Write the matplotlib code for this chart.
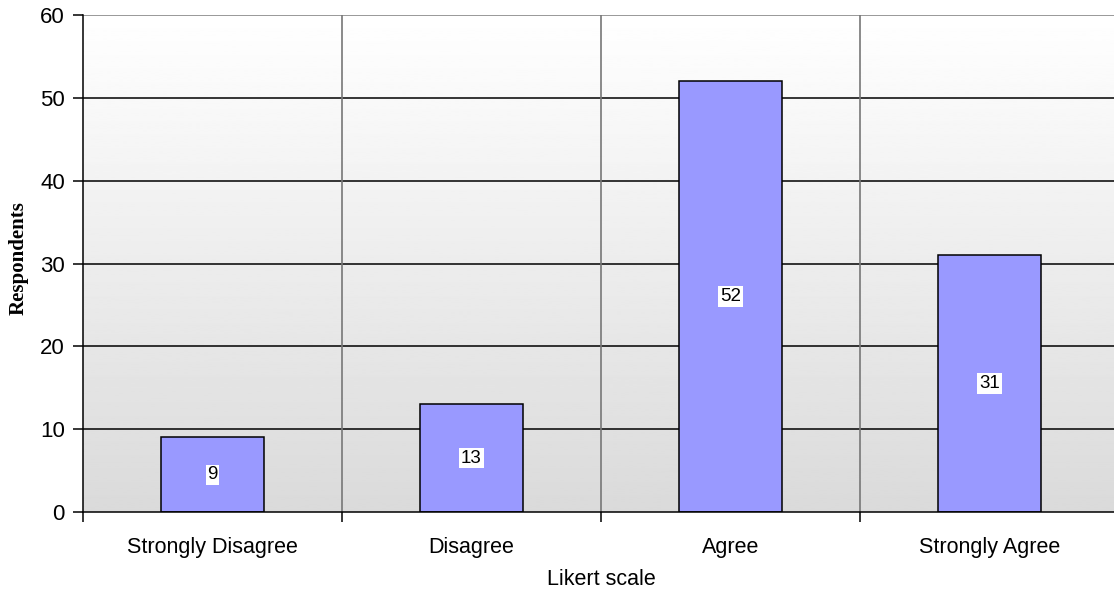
import matplotlib
matplotlib.use("Agg")
import matplotlib.pyplot as plt
import numpy as np

categories = ["Strongly Disagree", "Disagree", "Agree", "Strongly Agree"]
respondents = [9, 13, 52, 31]
y_ticks = [0, 10, 20, 30, 40, 50, 60]

plt.rcParams['font.family'] = ['Liberation Sans', 'DejaVu Sans']

fig = plt.figure(figsize=(11.14, 5.94), dpi=100)
ax = fig.add_axes([83/1114, 1-512/594, 1036/1114, 497/594])

x = np.arange(len(categories))
n = len(categories)

# white-to-grey background gradient (white at top)
grad = np.linspace(1.0, 0.855, 256).reshape(-1, 1)
ax.imshow(grad, cmap='gray', vmin=0, vmax=1, aspect='auto',
          extent=(-0.5, n-0.5, 0, 60), zorder=0, origin='upper')
ax.set_xlim(-0.5, n-0.5)
ax.set_ylim(0, 60)

for t in y_ticks[1:-1]:
    ax.axhline(t, color='#000000', lw=1.1, zorder=1)
ax.axhline(60, color='#888888', lw=1.2, zorder=1)
for b in np.arange(0.5, n-0.5, 1):
    ax.axvline(b, color='#777777', lw=1.2, zorder=1)

bars = ax.bar(x, respondents, width=0.4, color='#9999FF', edgecolor='black',
              linewidth=1.1, zorder=2)
for xi, v in zip(x, respondents):
    ax.text(xi, v/2, str(v), ha='center', va='center', fontsize=13.5, zorder=3,
            bbox=dict(facecolor='white', edgecolor='none', pad=1.2))

ax.set_yticks(y_ticks)
ax.set_yticklabels([str(t) for t in y_ticks], fontsize=16)
ax.set_xticks(x)
ax.set_xticklabels(categories, fontsize=15.5)
ax.tick_params(axis='x', length=0, pad=18)
ax.set_xticks(np.arange(-0.5, n, 1), minor=True)
ax.tick_params(axis='x', which='minor', length=7, width=1.1, direction='out')
ax.tick_params(axis='y', length=7, width=1.1, direction='out', pad=6)

for s in ['top', 'right']:
    ax.spines[s].set_visible(False)
ax.spines['left'].set_linewidth(1.1)
ax.spines['bottom'].set_linewidth(1.1)

ax.set_xlabel("Likert scale", fontsize=15.5, labelpad=8)
ax.set_ylabel("Respondents", fontsize=15, fontweight='bold',
              family=['Liberation Serif', 'DejaVu Serif'])
ax.yaxis.set_label_coords((19-83)/1036, (512-258)/497)
ax.yaxis.label.set_va('center')

fig.savefig("out.png", dpi=100)
